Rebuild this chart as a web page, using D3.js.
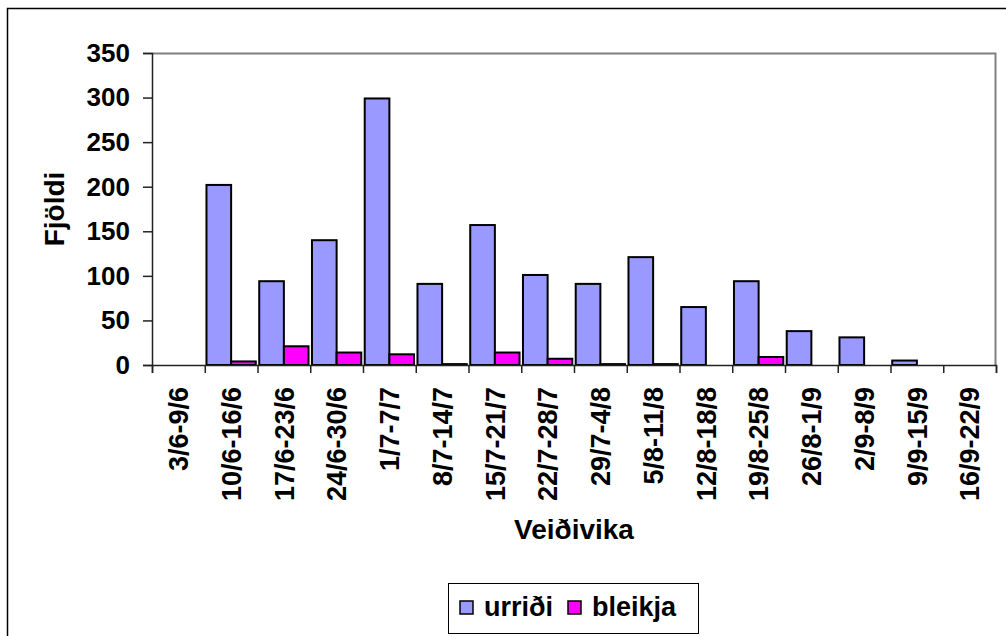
<!DOCTYPE html>
<html>
<head>
<meta charset="utf-8">
<script src="https://cdn.jsdelivr.net/npm/d3@7"></script>
<style>
  body { margin: 0; background: #fff; }
  svg text { font-family: Arial, "Liberation Sans", sans-serif; font-weight: bold; fill: #000; }
</style>
</head>
<body>
<svg id="chart"></svg>
<script>
// weeks (veiðivika)
const weeks = ["3/6-9/6", "10/6-16/6", "17/6-23/6", "24/6-30/6", "1/7-7/7", "8/7-14/7",
  "15/7-21/7", "22/7-28/7", "29/7-4/8", "5/8-11/8", "12/8-18/8", "19/8-25/8",
  "26/8-1/9", "2/9-8/9", "9/9-15/9", "16/9-22/9"];
const urridi = [0, 202, 94, 140, 299, 91, 157, 101, 91, 121, 65, 94, 38, 31, 5, 0];
const bleikja = [0, 4, 21, 14, 12, 1, 14, 7, 1, 1, 0, 9, 0, 0, 0, 0];
const seriesNames = ["urriði", "bleikja"];
const seriesColors = ["#9999FF", "#FF00FF"];
const yTicks = [0, 50, 100, 150, 200, 250, 300, 350];

const W = 1006, H = 636;
const margin = {top: 53, right: 10, bottom: 271, left: 152};
const width = W - margin.left - margin.right;
const height = H - margin.top - margin.bottom;

const svg = d3.select("#chart").attr("width", W).attr("height", H);

// outer chart border
svg.append("rect")
  .attr("x", 7.5).attr("y", 8.5)
  .attr("width", W + 10).attr("height", H + 10)
  .attr("fill", "none").attr("stroke", "#000").attr("stroke-width", 1.5);

const g = svg.append("g").attr("transform", `translate(${margin.left},${margin.top})`);

const x = d3.scaleBand().domain(weeks).range([0, width]).padding(0);
const xSub = d3.scaleBand().domain(seriesNames).range([0, x.bandwidth()])
  .paddingInner(0).paddingOuter(0.07);
const y = d3.scaleLinear().domain([0, 350]).range([height, 0]);

// plot area border (top and right, gray)
g.append("path")
  .attr("d", `M0,0.5H${width - 0.5}V${height}`)
  .attr("fill", "none").attr("stroke", "#808080").attr("stroke-width", 2);

// bars
const rows = weeks.map((w, i) => ({week: w, vals: [urridi[i], bleikja[i]]}));
const groups = g.selectAll(".grp").data(rows).join("g")
  .attr("class", "grp")
  .attr("transform", d => `translate(${x(d.week)},0)`);

groups.selectAll("rect")
  .data(d => d.vals.map((v, k) => ({name: seriesNames[k], v: v, k: k})).filter(e => e.v > 0))
  .join("rect")
  .attr("x", e => xSub(e.name))
  .attr("width", xSub.bandwidth())
  .attr("y", e => y(e.v))
  .attr("height", e => height - y(e.v))
  .attr("fill", e => seriesColors[e.k])
  .attr("stroke", "#000")
  .attr("stroke-width", 2);

// y axis
const yAxis = d3.axisLeft(y).tickValues(yTicks).tickSize(9).tickPadding(13);
const yG = g.append("g").call(yAxis);
yG.selectAll("text").style("font-size", "26px");
yG.selectAll("line, path").attr("stroke", "#222").attr("stroke-width", 1.5);

// x axis: ticks at category boundaries
const xEdge = d3.scaleLinear().domain([0, weeks.length]).range([0, width]);
const xG = g.append("g").attr("transform", `translate(0,${height})`)
  .call(d3.axisBottom(xEdge).tickValues(d3.range(weeks.length + 1)).tickSize(8).tickFormat(""));
xG.selectAll("line, path").attr("stroke", "#222").attr("stroke-width", 1.5);

// x tick labels, rotated
g.append("g").selectAll("text").data(weeks).join("text")
  .attr("transform", d => `translate(${x(d) + x.bandwidth() / 2},${height + 22}) rotate(-90)`)
  .attr("text-anchor", "end")
  .attr("dy", "0.36em")
  .style("font-size", "27px")
  .text(d => d);

// axis titles
svg.append("text")
  .attr("transform", `translate(64,${margin.top + height / 2}) rotate(-90)`)
  .attr("text-anchor", "middle")
  .style("font-size", "28px")
  .text("Fjöldi");

svg.append("text")
  .attr("x", margin.left + width / 2)
  .attr("y", 539)
  .attr("text-anchor", "middle")
  .style("font-size", "28px")
  .text("Veiðivika");

// legend
const leg = svg.append("g").attr("transform", "translate(448,583)");
leg.append("rect")
  .attr("x", 0.5).attr("y", 0.5).attr("width", 250).attr("height", 50)
  .attr("fill", "#fff").attr("stroke", "#000").attr("stroke-width", 1);
const legX = [12, 120];
seriesNames.forEach((name, k) => {
  leg.append("rect")
    .attr("x", legX[k]).attr("y", 18).attr("width", 13).attr("height", 13)
    .attr("fill", seriesColors[k]).attr("stroke", "#000").attr("stroke-width", 1.5);
  leg.append("text")
    .attr("x", legX[k] + 24).attr("y", 33)
    .style("font-size", "27px")
    .text(name);
});
</script>
</body>
</html>
